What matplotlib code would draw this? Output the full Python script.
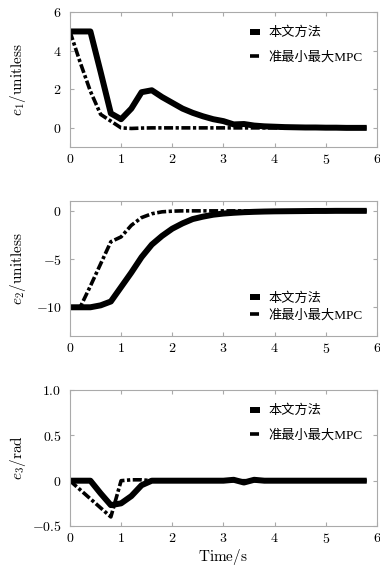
import matplotlib
matplotlib.use("Agg")
import matplotlib.pyplot as plt
from matplotlib.ticker import FuncFormatter

plt.rcParams['font.family'] = ['Liberation Serif', 'Noto Sans CJK SC']
plt.rcParams['mathtext.fontset'] = 'cm'

# time samples (s)
t = [0.0, 0.2, 0.4, 0.6, 0.8, 1.0, 1.2, 1.4, 1.6, 1.8, 2.0, 2.2, 2.4, 2.6, 2.8, 3.0,
     3.2, 3.4, 3.6, 3.8, 4.0, 4.2, 4.4, 4.6, 4.8, 5.0, 5.2, 5.4, 5.6, 5.8]

# e1
e1_ours = [5.0, 5.0, 5.0, 2.9, 0.75, 0.45, 1.0, 1.85, 1.95, 1.6, 1.3, 1.0, 0.78, 0.6, 0.45, 0.35,
           0.18, 0.2, 0.12, 0.08, 0.06, 0.04, 0.03, 0.02, 0.02, 0.01, 0.01, 0.0, 0.0, 0.0]
e1_mpc = [5.0, 3.4, 1.9, 0.7, 0.35, 0.0, -0.03, -0.01, 0.0, 0.0, 0.0, 0.0, 0.0, 0.0, 0.0, 0.0,
          0.0, 0.0, 0.0, 0.0, 0.0, 0.0, 0.0, 0.0, 0.0, 0.0, 0.0, 0.0, 0.0, 0.0]

# e2
e2_ours = [-10.0, -10.0, -10.0, -9.8, -9.4, -7.9, -6.4, -4.8, -3.5, -2.6, -1.85, -1.3, -0.85, -0.6,
           -0.4, -0.28, -0.2, -0.14, -0.1, -0.07, -0.05, -0.04, -0.03, -0.02, -0.01, -0.01, 0.0, 0.0, 0.0, 0.0]
e2_mpc = [-10.0, -10.0, -7.8, -5.5, -3.2, -2.7, -1.5, -0.7, -0.3, -0.1, -0.03, 0.0, 0.0, 0.0,
          0.0, 0.0, 0.0, 0.0, 0.0, 0.0, 0.0, 0.0, 0.0, 0.0, 0.0, 0.0, 0.0, 0.0, 0.0, 0.0]

# e3
e3_ours = [0.0, 0.0, 0.0, -0.14, -0.27, -0.25, -0.17, -0.05, 0.0, 0.0, 0.0, 0.0, 0.0, 0.0, 0.0, 0.0,
           0.01, -0.02, 0.01, 0.0, 0.0, 0.0, 0.0, 0.0, 0.0, 0.0, 0.0, 0.0, 0.0, 0.0]
e3_mpc = [0.0, -0.1, -0.2, -0.3, -0.4, 0.0, 0.01, 0.01, 0.0, 0.0, 0.0, 0.0, 0.0, 0.0, 0.0, 0.0,
          0.0, 0.0, 0.0, 0.0, 0.0, 0.0, 0.0, 0.0, 0.0, 0.0, 0.0, 0.0, 0.0, 0.0]

labels = ['本文方法', '准最小最大MPC']

panels = [
    (e1_ours, e1_mpc, r'$e_1/\mathrm{unitless}$', (-1, 6), [0, 2, 4, 6], '{:g}', 'upper right', 0.9),
    (e2_ours, e2_mpc, r'$e_2/\mathrm{unitless}$', (-13, 1), [-10, -5, 0], '{:g}', 'lower right', 0.35),
    (e3_ours, e3_mpc, r'$e_3/\mathrm{rad}$', (-0.5, 1.0), [-0.5, 0, 0.5, 1.0], '{:.1f}', 'upper right', 0.9),
]

fig = plt.figure(figsize=(3.8, 5.66), dpi=100)
rects = [[0.184, 0.740, 0.808, 0.2385],
         [0.184, 0.406, 0.808, 0.2385],
         [0.184, 0.0707, 0.808, 0.240]]

for rect, (ours, mpc, ylab, ylim, yt, yfmt, loc, lsp) in zip(rects, panels):
    ax = fig.add_axes(rect)
    ax.plot(t, ours, color='black', lw=4.3, solid_capstyle='butt', label=labels[0])
    ax.plot(t, mpc, color='black', lw=2.6, linestyle=(0, (2.5, 0.7, 0.9, 0.7)), label=labels[1])
    ax.set_xlim(0, 6)
    ax.set_ylim(*ylim)
    ax.set_xticks([0, 1, 2, 3, 4, 5, 6])
    ax.set_yticks(yt)
    ax.xaxis.set_major_formatter(FuncFormatter(lambda v, p: '$%g$' % v))
    ax.yaxis.set_major_formatter(FuncFormatter(
        lambda v, p, f=yfmt: '$0$' if v == 0 else '$' + f.format(v) + '$'))
    ax.tick_params(direction='in', top=True, right=True, length=3, color='#aaaaaa',
                   labelsize=10)
    ax.tick_params(axis='x', pad=4)
    ax.tick_params(axis='y', pad=6)
    for s in ax.spines.values():
        s.set_color('#aaaaaa')
        s.set_linewidth(0.8)
    ax.set_ylabel(ylab, fontsize=11)
    ax.yaxis.set_label_coords(-0.135, 0.5)
    ax.legend(loc=loc, frameon=False, fontsize=9.5, handlelength=0.8, handletextpad=0.6,
              labelspacing=lsp, borderaxespad=0.7)

ax.set_xlabel(r'$\mathrm{Time/s}$', fontsize=11, labelpad=1)

fig.savefig('out.png', dpi=100)
